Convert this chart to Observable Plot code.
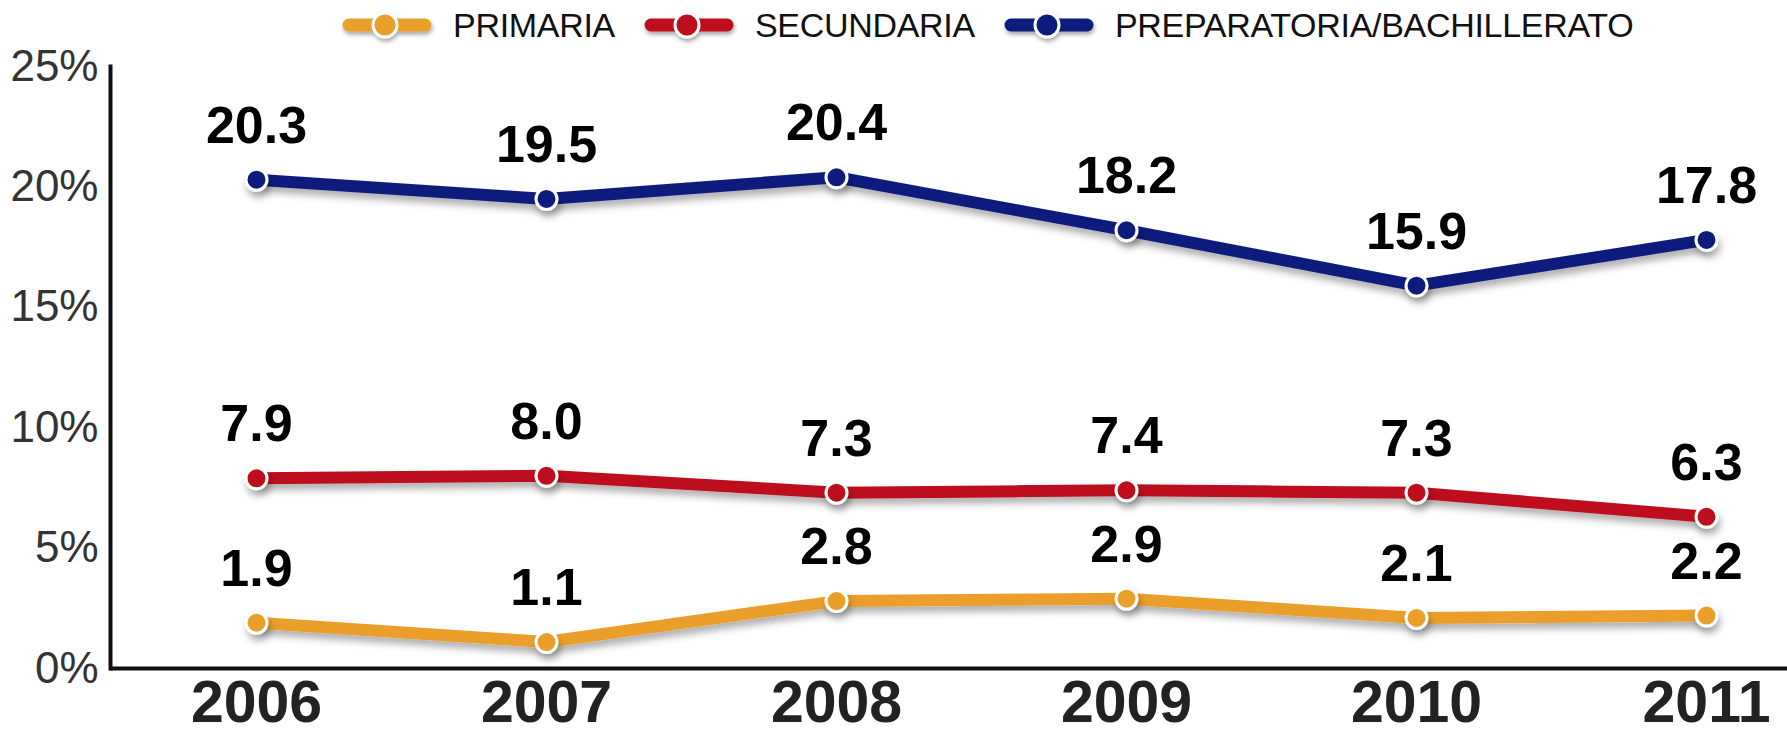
<!DOCTYPE html>
<html>
<head>
<meta charset="utf-8">
<script src="https://cdn.jsdelivr.net/npm/d3@7"></script>
<script src="https://cdn.jsdelivr.net/npm/@observablehq/plot@0.6"></script>
<style>
  html, body { margin: 0; padding: 0; background: #fff; }
  body { width: 1787px; height: 733px; overflow: hidden; font-family: "Liberation Sans", Arial, sans-serif; }
  #legend { position: relative; height: 50px; display: flex; align-items: center; padding-left: 343px; box-sizing: border-box; }
  .item { display: flex; align-items: center; margin-right: 30px; }
  .item svg { margin-right: 22px; overflow: visible; }
  .item span { font-size: 34px; color: #111; letter-spacing: -0.3px; }
  #chart svg { display: block; }
</style>
</head>
<body>
<div id="legend"></div>
<div id="chart"></div>
<script>
// ---- data ----
const years = [2006, 2007, 2008, 2009, 2010, 2011];
const seriesNames = ["PRIMARIA", "SECUNDARIA", "PREPARATORIA/BACHILLERATO"];
const primaria = [1.9, 1.1, 2.8, 2.9, 2.1, 2.2];
const secundaria = [7.9, 8.0, 7.3, 7.4, 7.3, 6.3];
const preparatoria = [20.3, 19.5, 20.4, 18.2, 15.9, 17.8];
const yTicks = [0, 5, 10, 15, 20, 25];
const colors = ["#EA9F2A", "#BE111B", "#0C1F7C"];

const seriesValues = [primaria, secundaria, preparatoria];
const table = [];
seriesNames.forEach((name, i) => {
  years.forEach((yr, j) => table.push({series: name, year: yr, value: seriesValues[i][j]}));
});

// ---- legend (HTML) ----
const legend = document.getElementById("legend");
seriesNames.forEach((name, i) => {
  const item = document.createElement("div");
  item.className = "item";
  item.innerHTML = `<svg width="88" height="30" viewBox="0 0 88 30">
      <defs><filter id="ls${i}" x="-20%" y="-50%" width="140%" height="200%"><feDropShadow dx="1" dy="3" stdDeviation="2" flood-color="#000" flood-opacity="0.35"/></filter></defs>
      <g filter="url(#ls${i})">
        <line x1="6" y1="15" x2="82" y2="15" stroke="${colors[i]}" stroke-width="13" stroke-linecap="round"/>
        <circle cx="42" cy="15" r="12" fill="${colors[i]}" stroke="#fff" stroke-width="3"/>
      </g>
    </svg><span>${name}</span>`;
  legend.appendChild(item);
});

// ---- chart ----
const chart = Plot.plot({
  width: 1787,
  height: 683,
  marginLeft: 110,
  marginRight: 0,
  marginTop: 16,
  marginBottom: 65,
  style: {fontFamily: "'Liberation Sans', Arial, sans-serif", background: "#fff", overflow: "visible"},
  x: {type: "point", domain: years, padding: 0, insetLeft: 145, insetRight: 80},
  y: {domain: [0, 25]},
  color: {domain: seriesNames, range: colors},
  marks: [
    Plot.axisY({ticks: yTicks, tickFormat: d => d + "%", tickSize: 0, tickPadding: 12, fontSize: 44, fill: "#333", label: null}),
    Plot.axisX({tickFormat: d => String(d), tickSize: 0, tickPadding: 12, fontSize: 59, fontWeight: "bold", fill: "#222", label: null}),
    Plot.frame({anchor: "left", stroke: "#111", strokeWidth: 4}),
    Plot.ruleY([0], {stroke: "#111", strokeWidth: 4}),
    Plot.line(table, {x: "year", y: "value", z: "series", stroke: "series", strokeWidth: 12, strokeLinejoin: "round", strokeLinecap: "butt"}),
    Plot.dot(table, {x: "year", y: "value", fill: "series", stroke: "#fff", strokeWidth: 3, r: 10.5}),
    Plot.text(table, {x: "year", y: "value", text: d => d.value.toFixed(1), dy: -37, lineAnchor: "bottom", fontSize: 52, fontWeight: "bold", fill: "#000"})
  ]
});

// drop shadow on lines and dots
const ns = "http://www.w3.org/2000/svg";
const defs = document.createElementNS(ns, "defs");
defs.innerHTML = `<filter id="shadow" x="-5%" y="-20%" width="110%" height="160%"><feDropShadow dx="2" dy="6" stdDeviation="3.5" flood-color="#000" flood-opacity="0.3"/></filter>`;
chart.insertBefore(defs, chart.firstChild);
chart.querySelectorAll('g[aria-label="line"], g[aria-label="dot"]').forEach(g => g.setAttribute("filter", "url(#shadow)"));

document.getElementById("chart").appendChild(chart);
</script>
</body>
</html>
